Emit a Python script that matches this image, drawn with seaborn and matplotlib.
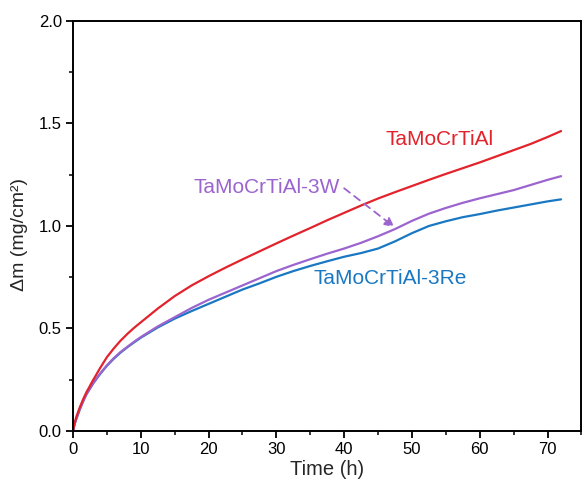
import matplotlib
matplotlib.use("Agg")
import matplotlib.pyplot as plt
import seaborn as sns
import pandas as pd
from matplotlib.ticker import MultipleLocator

# Data
time_red = [0, 0.25, 0.5, 1, 1.5, 2, 3, 4, 5, 6, 7, 8, 9, 10, 12.5, 15, 17.5, 20, 22.5, 25, 27.5, 30,
            32.5, 35, 37.5, 40, 42.5, 45, 47.5, 50, 52.5, 55, 57.5, 60, 62.5, 65, 67.5, 70, 72]
mass_red = [0, 0.04, 0.07, 0.115, 0.155, 0.19, 0.25, 0.307, 0.36, 0.402, 0.44, 0.473, 0.503, 0.53, 0.597,
            0.658, 0.71, 0.755, 0.797, 0.837, 0.876, 0.915, 0.953, 0.99, 1.028, 1.064, 1.10, 1.134, 1.165,
            1.195, 1.225, 1.254, 1.282, 1.31, 1.34, 1.37, 1.40, 1.434, 1.463]

time_w = [0, 0.25, 0.5, 1, 1.5, 2, 3, 4, 5, 6, 7, 8, 9, 10, 12.5, 15, 17.5, 20, 22.5, 25, 27.5, 30,
          32.5, 35, 37.5, 40, 42.5, 45, 47.5, 50, 52.5, 55, 57.5, 60, 62.5, 65, 67.5, 70, 72]
mass_w = [0, 0.035, 0.06, 0.105, 0.145, 0.18, 0.235, 0.28, 0.32, 0.355, 0.385, 0.41, 0.435, 0.458, 0.51,
          0.555, 0.60, 0.64, 0.675, 0.71, 0.745, 0.78, 0.81, 0.838, 0.865, 0.89, 0.918, 0.95, 0.985,
          1.025, 1.06, 1.088, 1.113, 1.135, 1.155, 1.175, 1.20, 1.225, 1.243]

time_re = [0, 0.25, 0.5, 1, 1.5, 2, 3, 4, 5, 6, 7, 8, 9, 10, 12.5, 15, 17.5, 20, 22.5, 25, 27.5, 30,
           32.5, 35, 37.5, 40, 42.5, 45, 47.5, 50, 52.5, 55, 57.5, 60, 62.5, 65, 67.5, 70, 72]
mass_re = [0, 0.035, 0.06, 0.105, 0.145, 0.18, 0.233, 0.278, 0.318, 0.352, 0.382, 0.408, 0.432, 0.455,
           0.505, 0.548, 0.585, 0.62, 0.655, 0.69, 0.72, 0.752, 0.78, 0.805, 0.828, 0.85, 0.868, 0.89,
           0.925, 0.965, 1.0, 1.023, 1.043, 1.058, 1.075, 1.09, 1.105, 1.12, 1.13]

labels = ["TaMoCrTiAl", "TaMoCrTiAl-3W", "TaMoCrTiAl-3Re"]
colors = ["#e3232c", "#9b64cf", "#1a78c2"]

df = pd.concat([
    pd.DataFrame({"t": time_red, "m": mass_red, "alloy": labels[0]}),
    pd.DataFrame({"t": time_w, "m": mass_w, "alloy": labels[1]}),
    pd.DataFrame({"t": time_re, "m": mass_re, "alloy": labels[2]}),
])

sns.set_style("ticks")
plt.rcParams["font.family"] = ["Liberation Sans", "DejaVu Sans"]

fig = plt.figure(figsize=(5.82, 4.88), dpi=100)
ax = fig.add_axes([0.1254, 0.1168, 0.8736, 0.8402])

order = [labels[2], labels[1], labels[0]]
pal = {labels[0]: colors[0], labels[1]: colors[1], labels[2]: colors[2]}
for name in order:
    sns.lineplot(data=df[df["alloy"] == name], x="t", y="m", color=pal[name],
                 lw=1.6, ax=ax, legend=False)

ax.set_xlim(0, 75)
ax.set_ylim(0, 2.0)
ax.xaxis.set_major_locator(MultipleLocator(10))
ax.xaxis.set_minor_locator(MultipleLocator(5))
ax.yaxis.set_minor_locator(MultipleLocator(0.25))
ax.set_yticks([0.0, 0.5, 1.0, 1.5, 2.0])
ax.set_yticklabels(["0.0", "0.5", "1.0", "1.5", "2.0"])
ax.tick_params(which="major", direction="out", length=5, width=1.3, labelsize=12, colors="black", pad=3)
ax.tick_params(which="minor", direction="out", length=3, width=1.3)
for s in ax.spines.values():
    s.set_linewidth(1.4)
    s.set_color("black")

ax.set_xlabel("Time (h)", fontsize=14.5, labelpad=2)
ax.set_ylabel("Δm (mg/cm²)", fontsize=14)
ax.yaxis.set_label_coords(-0.088, 0.48)

ax.text(54.1, 1.424, labels[0], color=colors[0], fontsize=15, ha="center", va="center")
ax.text(28.6, 1.188, labels[1], color=colors[1], fontsize=15, ha="center", va="center")
ax.text(46.8, 0.746, labels[2], color=colors[2], fontsize=15, ha="center", va="center")

ax.annotate("", xy=(47.4, 0.995), xytext=(40.0, 1.184),
            arrowprops=dict(arrowstyle="-|>", color=colors[1], lw=1.3,
                            linestyle=(0, (4, 3)), mutation_scale=14,
                            shrinkA=0, shrinkB=0))

fig.savefig("out.png", dpi=100)
